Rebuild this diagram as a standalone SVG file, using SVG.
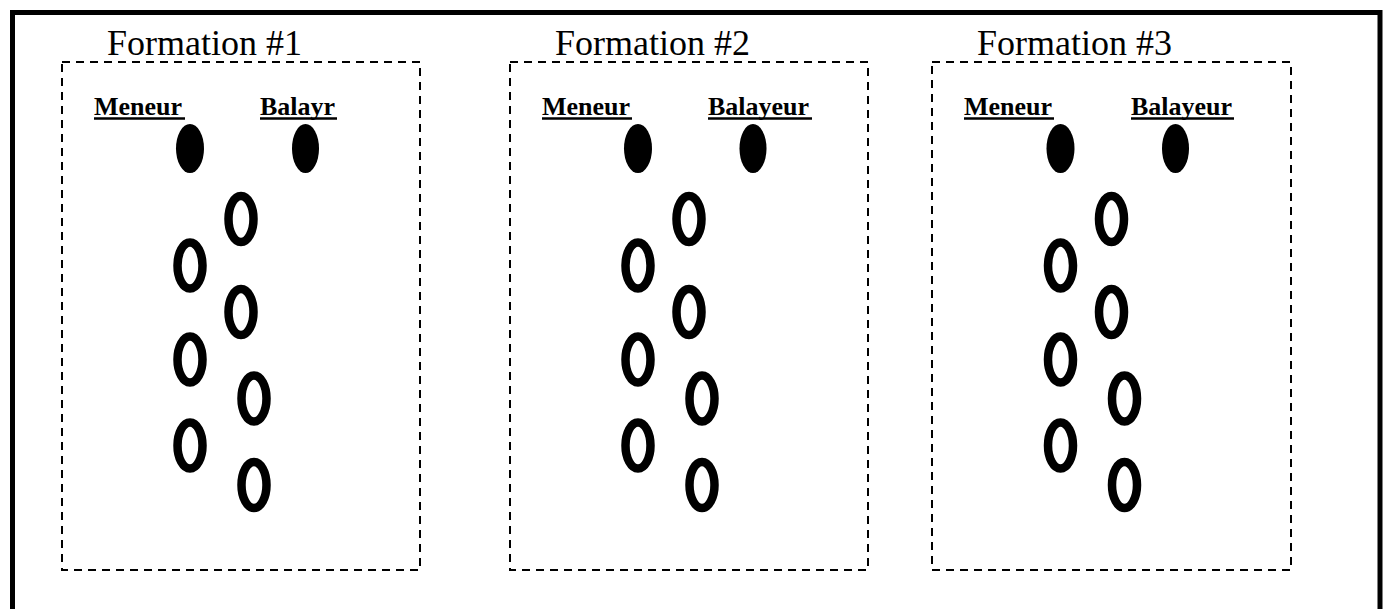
<svg xmlns="http://www.w3.org/2000/svg" width="1389" height="609" viewBox="0 0 1389 609">
<style>
.frame{fill:none;stroke:#000;stroke-width:5}
.box{fill:none;stroke:#000;stroke-width:2;stroke-dasharray:8 6}
.title{font-family:"Liberation Serif","Times New Roman",serif;font-size:36px;fill:#000}
.lbl{font-family:"Liberation Serif","Times New Roman",serif;font-size:26px;font-weight:bold;fill:#000}
.ul{stroke:#000;stroke-width:2.5}
.lead{fill:#000}
.mem{fill:none;stroke:#000;stroke-width:8.5}
</style>
<rect width="1389" height="609" fill="#fff"/>
<path class="frame" d="M12.5 612 V12.5 H1380 V612"/>
<g id="formation1">
<text class="title" x="107" y="55">Formation #1</text>
<rect class="box" x="62" y="62" width="358" height="508"/>
<text class="lbl" x="94" y="115">Meneur</text>
<line class="ul" x1="94" y1="118.5" x2="185" y2="118.5"/>
<text class="lbl" x="260" y="115">Balayr</text>
<line class="ul" x1="260" y1="118.5" x2="337" y2="118.5"/>
<ellipse class="lead" cx="190" cy="148.5" rx="14" ry="24.5"/>
<ellipse class="lead" cx="305.5" cy="148.5" rx="13.5" ry="24.5"/>
<ellipse class="mem" cx="241" cy="219" rx="12.5" ry="23"/>
<ellipse class="mem" cx="190" cy="265.5" rx="12.5" ry="23"/>
<ellipse class="mem" cx="241" cy="312" rx="12.5" ry="23"/>
<ellipse class="mem" cx="190" cy="359.5" rx="12.5" ry="23"/>
<ellipse class="mem" cx="254" cy="398.5" rx="12.5" ry="23"/>
<ellipse class="mem" cx="190" cy="445.5" rx="12.5" ry="23"/>
<ellipse class="mem" cx="254" cy="485" rx="12.5" ry="23"/>
</g>
<g id="formation2">
<text class="title" x="555" y="55">Formation #2</text>
<rect class="box" x="510" y="62" width="358" height="508"/>
<text class="lbl" x="542" y="115">Meneur</text>
<line class="ul" x1="542" y1="118.5" x2="632" y2="118.5"/>
<text class="lbl" x="708" y="115">Balayeur</text>
<line class="ul" x1="708" y1="118.5" x2="812" y2="118.5"/>
<ellipse class="lead" cx="638" cy="148.5" rx="14" ry="24.5"/>
<ellipse class="lead" cx="753" cy="148.5" rx="13.5" ry="24.5"/>
<ellipse class="mem" cx="689" cy="219" rx="12.5" ry="23"/>
<ellipse class="mem" cx="638" cy="265.5" rx="12.5" ry="23"/>
<ellipse class="mem" cx="689" cy="312" rx="12.5" ry="23"/>
<ellipse class="mem" cx="638" cy="359.5" rx="12.5" ry="23"/>
<ellipse class="mem" cx="702" cy="398.5" rx="12.5" ry="23"/>
<ellipse class="mem" cx="638" cy="445.5" rx="12.5" ry="23"/>
<ellipse class="mem" cx="702" cy="485" rx="12.5" ry="23"/>
</g>
<g id="formation3">
<text class="title" x="977" y="55">Formation #3</text>
<rect class="box" x="932" y="62" width="359" height="508"/>
<text class="lbl" x="964" y="115">Meneur</text>
<line class="ul" x1="964" y1="118.5" x2="1054" y2="118.5"/>
<text class="lbl" x="1131" y="115">Balayeur</text>
<line class="ul" x1="1131" y1="118.5" x2="1234" y2="118.5"/>
<ellipse class="lead" cx="1060.5" cy="148.5" rx="14" ry="24.5"/>
<ellipse class="lead" cx="1175.5" cy="148.5" rx="13.5" ry="24.5"/>
<ellipse class="mem" cx="1111.5" cy="219" rx="12.5" ry="23"/>
<ellipse class="mem" cx="1060.5" cy="265.5" rx="12.5" ry="23"/>
<ellipse class="mem" cx="1111.5" cy="312" rx="12.5" ry="23"/>
<ellipse class="mem" cx="1060.5" cy="359.5" rx="12.5" ry="23"/>
<ellipse class="mem" cx="1124.5" cy="398.5" rx="12.5" ry="23"/>
<ellipse class="mem" cx="1060.5" cy="445.5" rx="12.5" ry="23"/>
<ellipse class="mem" cx="1124.5" cy="485" rx="12.5" ry="23"/>
</g>
<g id="connectors"/>
</svg>
